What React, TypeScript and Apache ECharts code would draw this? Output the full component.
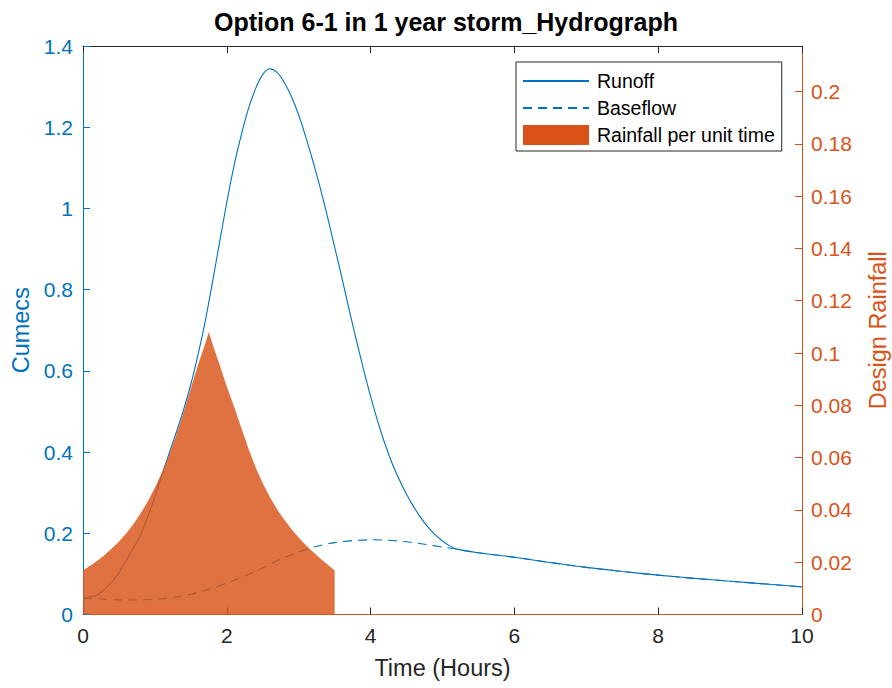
import React, { useEffect, useRef } from "react";
import * as echarts from "echarts";

const runoffT = [0, 0.1, 0.2, 0.3, 0.4, 0.5, 0.6, 0.7, 0.8, 0.9, 1.0, 1.1, 1.2, 1.3, 1.4, 1.5, 1.6, 1.7, 1.8, 1.9, 2.0, 2.1, 2.2, 2.3, 2.4, 2.5, 2.6, 2.7, 2.8, 2.9, 3.0, 3.1, 3.2, 3.3, 3.4, 3.5, 3.6, 3.7, 3.8, 3.9, 4.0, 4.1, 4.2, 4.3, 4.4, 4.5, 4.6, 4.7, 4.8, 4.9, 5.0, 5.1, 5.2, 5.5, 6, 6.5, 7, 7.5, 8, 8.5, 9, 9.5, 10];
const runoffV = [0.042, 0.043, 0.048, 0.062, 0.080, 0.103, 0.133, 0.163, 0.195, 0.240, 0.290, 0.345, 0.398, 0.450, 0.505, 0.567, 0.640, 0.722, 0.818, 0.917, 1.015, 1.105, 1.180, 1.245, 1.295, 1.330, 1.344, 1.335, 1.310, 1.275, 1.230, 1.175, 1.115, 1.050, 0.980, 0.905, 0.830, 0.752, 0.677, 0.605, 0.537, 0.475, 0.420, 0.372, 0.332, 0.296, 0.265, 0.238, 0.215, 0.196, 0.181, 0.169, 0.161, 0.152, 0.141, 0.128, 0.116, 0.106, 0.097, 0.089, 0.082, 0.075, 0.068];

const baseT = [0, 0.25, 0.5, 0.75, 1.0, 1.25, 1.5, 1.75, 2.0, 2.25, 2.5, 2.75, 3.0, 3.25, 3.5, 3.75, 4.0, 4.25, 4.5, 4.75, 5.0, 5.2, 5.5, 6, 6.5, 7, 7.5, 8, 8.5, 9, 9.5, 10];
const baseV = [0.040, 0.038, 0.036, 0.036, 0.038, 0.042, 0.050, 0.062, 0.077, 0.095, 0.115, 0.136, 0.154, 0.168, 0.177, 0.182, 0.184, 0.183, 0.179, 0.173, 0.166, 0.161, 0.152, 0.141, 0.128, 0.116, 0.106, 0.097, 0.089, 0.082, 0.075, 0.068];

const rainT = [0, 0.1, 0.2, 0.3, 0.4, 0.5, 0.6, 0.7, 0.8, 0.9, 1.0, 1.1, 1.2, 1.3, 1.4, 1.5, 1.6, 1.7, 1.75, 1.8, 1.9, 2.0, 2.1, 2.2, 2.3, 2.4, 2.5, 2.6, 2.7, 2.8, 2.9, 3.0, 3.1, 3.2, 3.3, 3.4, 3.5];
const rainV = [0.0168, 0.0186, 0.0206, 0.0228, 0.0252, 0.0279, 0.031, 0.0345, 0.0386, 0.0432, 0.0485, 0.0545, 0.0613, 0.069, 0.0775, 0.0865, 0.0955, 0.1035, 0.108, 0.1035, 0.0955, 0.0872, 0.0795, 0.0715, 0.0635, 0.0563, 0.0502, 0.0448, 0.0402, 0.0362, 0.0326, 0.0294, 0.0265, 0.0239, 0.0214, 0.0191, 0.0168];

const xTicks = { min: 0, max: 10, interval: 2 };
const leftTicks = { min: 0, max: 1.4, interval: 0.2 };
const rightTicks = { min: 0, max: 0.2174, interval: 0.02 };

const BLUE = "#0072BD";
const ORANGE = "#D95319";
const DARK = "#262626";
const FONT = "Liberation Sans, Arial, Helvetica, sans-serif";

const fmt = (v: number) => String(Number(v.toFixed(3)));

export default function App() {
  const ref = useRef<HTMLDivElement>(null);
  useEffect(() => {
    document.body.style.margin = "0";
    const chart = echarts.init(ref.current!, null, { renderer: "svg" });
    const zip = (t: number[], v: number[]) => t.map((x, i) => [x, v[i]]);
    chart.setOption({
      animation: false,
      backgroundColor: "#ffffff",
      textStyle: { fontFamily: FONT },
      title: {
        text: "Option 6-1 in 1 year storm_Hydrograph",
        left: "center",
        top: 4,
        textStyle: { fontFamily: FONT, fontSize: 25, fontWeight: "bold", color: "#000000" },
      },
      grid: { left: 83, right: 90, top: 46, bottom: 73.5, containLabel: false, outerBoundsMode: "none" },
      legend: {
        orient: "vertical",
        left: 516,
        top: 62,
        padding: [9, 7, 6, 6],
        itemWidth: 66,
        itemHeight: 20,
        itemGap: 7,
        borderColor: DARK,
        borderWidth: 1,
        backgroundColor: "#ffffff",
        textStyle: { fontFamily: FONT, fontSize: 19.5, color: "#000000", padding: [0, 0, 0, 3] },
        data: [
          { name: "Runoff", itemStyle: { opacity: 0 } },
          { name: "Baseflow", itemStyle: { opacity: 0 } },
          { name: "Rainfall per unit time", icon: "rect", itemStyle: { color: ORANGE, opacity: 1 } },
        ],
      },
      xAxis: [
        {
          type: "value",
          ...xTicks,
          position: "bottom",
          name: "Time (Hours)",
          nameLocation: "middle",
          nameGap: 41,
          nameTextStyle: { fontFamily: FONT, fontSize: 23.5, color: DARK },
          axisLine: { onZero: false, lineStyle: { color: ORANGE, width: 1.2 } },
          axisTick: { inside: true, length: 7, lineStyle: { color: DARK } },
          axisLabel: { fontFamily: FONT, fontSize: 21, color: DARK, margin: 10, formatter: fmt },
          splitLine: { show: false },
        },
        {
          type: "value",
          ...xTicks,
          position: "top",
          axisLine: { onZero: false, lineStyle: { color: DARK, width: 1 } },
          axisTick: { inside: true, length: 7, lineStyle: { color: DARK } },
          axisLabel: { show: false },
          splitLine: { show: false },
        },
      ],
      yAxis: [
        {
          type: "value",
          ...leftTicks,
          position: "left",
          name: "Cumecs",
          nameLocation: "middle",
          nameGap: 50,
          nameTextStyle: { fontFamily: FONT, fontSize: 23.5, color: BLUE },
          axisLine: { show: true, onZero: false, lineStyle: { color: BLUE, width: 1 } },
          axisTick: { show: true, inside: true, length: 7, lineStyle: { color: BLUE } },
          axisLabel: { fontFamily: FONT, fontSize: 21, color: BLUE, margin: 10, formatter: fmt },
          splitLine: { show: false },
        },
        {
          type: "value",
          ...rightTicks,
          position: "right",
          name: "Design Rainfall",
          nameLocation: "middle",
          nameGap: 64,
          nameTextStyle: { fontFamily: FONT, fontSize: 23.5, color: ORANGE },
          axisLine: { show: true, onZero: false, lineStyle: { color: ORANGE, width: 1 } },
          axisTick: { show: true, inside: true, length: 7, lineStyle: { color: ORANGE } },
          axisLabel: {
            fontFamily: FONT,
            fontSize: 21,
            color: ORANGE,
            margin: 9,
            showMaxLabel: false,
            formatter: (v: number) =>
              Math.abs(v / 0.02 - Math.round(v / 0.02)) < 1e-6 ? fmt(v) : "",
          },
          splitLine: { show: false },
        },
      ],
      series: [
        {
          name: "Runoff",
          type: "line",
          xAxisIndex: 0,
          yAxisIndex: 0,
          data: zip(runoffT, runoffV),
          showSymbol: false,
          symbol: "none",
          smooth: 0.3,
          color: BLUE,
          lineStyle: { color: BLUE, width: 1.1 },
          z: 2,
        },
        {
          name: "Baseflow",
          type: "line",
          xAxisIndex: 0,
          yAxisIndex: 0,
          data: zip(baseT, baseV),
          showSymbol: false,
          symbol: "none",
          smooth: 0.3,
          color: BLUE,
          lineStyle: { color: BLUE, width: 1.1, type: [9, 6] },
          z: 2,
        },
        {
          name: "Rainfall per unit time",
          type: "line",
          xAxisIndex: 0,
          yAxisIndex: 1,
          data: zip(rainT, rainV),
          showSymbol: false,
          symbol: "none",
          color: ORANGE,
          lineStyle: { width: 0, color: ORANGE },
          areaStyle: { color: ORANGE, opacity: 0.82 },
          z: 3,
        },
      ],
    });
    return () => chart.dispose();
  }, []);
  return <div ref={ref} style={{ width: 892, height: 688 }} />;
}
